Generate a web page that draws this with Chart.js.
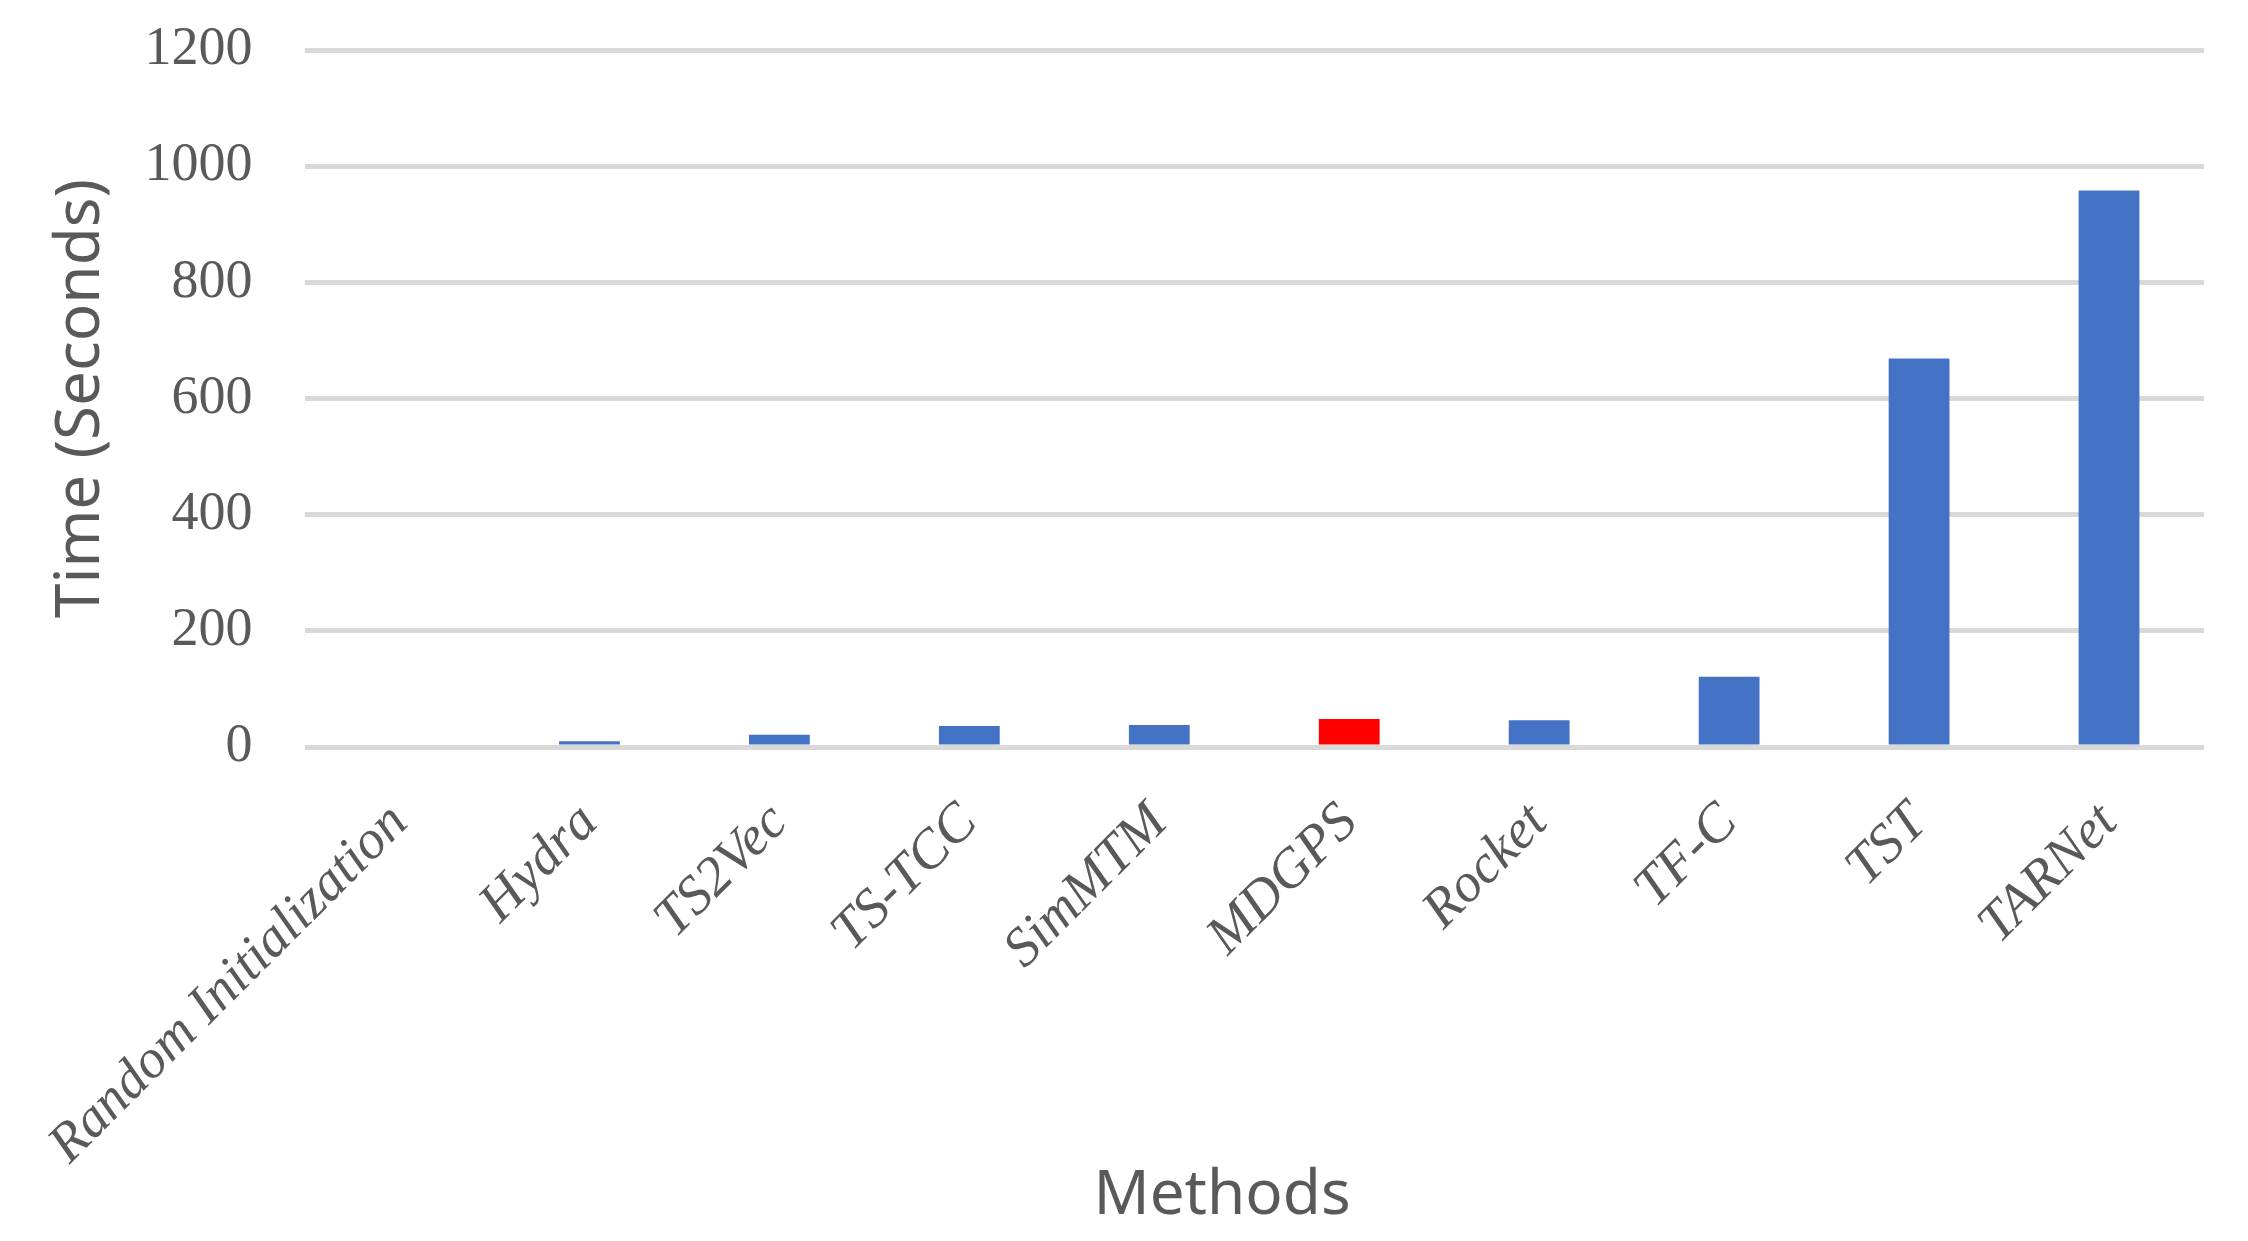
<!DOCTYPE html>
<html lang="en">
<head>
  <meta charset="UTF-8">
  <title>Time (Seconds) by Method</title>
  <script src="https://cdn.jsdelivr.net/npm/chart.js"></script>
  <style>
    body {
      margin: 0;
      padding: 0;
      background: #fff;
    }
    canvas {
      display: block;
    }
  </style>
</head>
<body>
  <canvas id="timeChart" width="2248" height="1241"></canvas>

  <script>
    const methods = ['Random Initialization', 'Hydra', 'TS2Vec', 'TS-TCC', 'SimMTM', 'MDGPS', 'Rocket', 'TF-C', 'TST', 'TARNet'];
    const seconds = [0, 10, 21, 36, 38, 48, 46, 121, 669, 958];
    const yTicks = [0, 200, 400, 600, 800, 1000, 1200];
    const highlighted = 'MDGPS';

    const textColor = '#595959';
    const gridColor = '#d9d9d9';
    const serif = "'Liberation Serif', 'Times New Roman', serif";

    const ctx = document.getElementById('timeChart').getContext('2d');

    new Chart(ctx, {
      type: 'bar',
      data: {
        labels: methods,
        datasets: [
          {
            label: 'Time (Seconds)',
            data: seconds,
            backgroundColor: methods.map((m) => (m === highlighted ? '#ff0000' : '#4472c4')),
            borderWidth: 0,
            barPercentage: 0.32,
            categoryPercentage: 1.0,
          },
        ],
      },
      options: {
        responsive: false,
        animation: false,
        devicePixelRatio: 1,
        layout: {
          padding: { top: 50, right: 44, bottom: 0, left: 0 },
        },
        plugins: {
          legend: { display: false },
          tooltip: { enabled: false },
        },
        scales: {
          x: {
            grid: { display: false, drawTicks: false },
            border: { display: false },
            ticks: {
              color: textColor,
              autoSkip: false,
              minRotation: 45,
              maxRotation: 45,
              padding: 44,
              font: { family: serif, size: 55, style: 'italic' },
            },
            title: {
              display: true,
              // trailing spaces nudge the title left like the original
              text: 'Methods\u00a0\u00a0\u00a0\u00a0',
              color: textColor,
              padding: { top: 0, bottom: 7 },
              font: { family: 'Noto Sans', size: 62 },
            },
            afterFit: (scale) => {
              scale.height = 494;
            },
          },
          y: {
            min: 0,
            max: 1200,
            afterBuildTicks: (scale) => {
              scale.ticks = yTicks.map((v) => ({ value: v }));
            },
            grid: { color: gridColor, lineWidth: 5, drawTicks: false },
            border: { display: false },
            ticks: {
              color: textColor,
              padding: 52,
              callback: (v) => String(v),
              font: { family: serif, size: 54 },
            },
            title: {
              display: true,
              text: 'Time (Seconds)',
              color: textColor,
              padding: { top: 44, bottom: 0 },
              font: { family: 'Noto Sans', size: 62 },
            },
            afterFit: (scale) => {
              scale.width = 304;
              // tick padding is horizontal here; keep it out of the top/bottom margins
              scale.paddingTop = 30;
              scale.paddingBottom = 0;
            },
          },
        },
      },
    });
  </script>
</body>
</html>
